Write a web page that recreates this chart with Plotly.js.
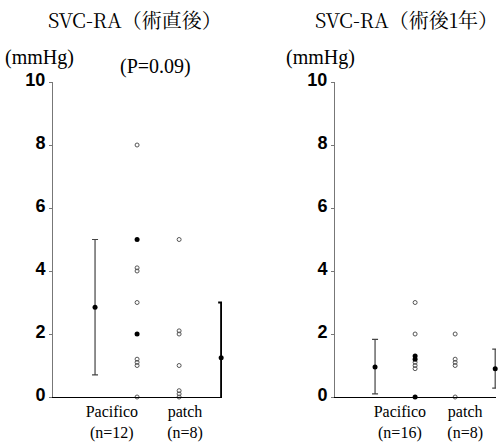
<!DOCTYPE html>
<html>
<head>
<meta charset="utf-8">
<script src="https://cdn.plot.ly/plotly-3.0.1.min.js"></script>
<style>html,body{margin:0;padding:0;background:#fff;}#chart{width:503px;height:442px;}</style>
</head>
<body>
<div id="chart"></div>
<script>
// ---- data ----
const groupLabels = ["Pacifico<br>(n=12)", "patch<br>(n=8)"];
const groupLabels1y = ["Pacifico<br>(n=16)", "patch<br>(n=8)"];
const labelPos = [1.40, 3.14];
const labelPos1y = [1.62, 3.25];
const yTicks = [0, 2, 4, 6, 8, 10];

// Panel 1: 術直後
const p1PacificoOpen = [8, 4.1, 4.0, 3.0, 1.2, 1.1, 1.0, 0];
const p1PacificoFilled = [5, 2];
const p1PatchOpen = [5, 2.1, 2.0, 1.0, 0.2, 0.1, 0];
const p1PacMean = 2.85, p1PacUp = 2.15, p1PacDown = 2.15;
const p1PatMean = 1.25, p1PatUp = 1.75, p1PatDown = 1.45;

// Panel 2: 術後1年
const p2PacificoOpen = [3.0, 2.0, 1.1, 1.0, 0.9];
const p2PacificoFilled = [1.3, 1.2, 0];
const p2PatchOpen = [2.0, 1.2, 1.1, 1.0, 0];
const p2PacMean = 0.95, p2PacUp = 0.88, p2PacDown = 0.85;
const p2PatMean = 0.9, p2PatUp = 0.62, p2PatDown = 0.62;

const pos = {meanA: 1, pac: 2, pat: 3, meanB: 4};

function openPts(x, ys, xa, ya) {
  return {x: ys.map(() => x), y: ys, xaxis: xa, yaxis: ya, type: 'scatter', mode: 'markers',
    marker: {symbol: 'circle-open', size: 4, color: '#555', line: {width: 1, color: '#555'}},
    cliponaxis: false, hoverinfo: 'none', showlegend: false};
}
function filledPts(x, ys, xa, ya) {
  return {x: ys.map(() => x), y: ys, xaxis: xa, yaxis: ya, type: 'scatter', mode: 'markers',
    marker: {symbol: 'circle', size: 5, color: '#000'},
    cliponaxis: false, hoverinfo: 'none', showlegend: false};
}
function meanBar(x, m, up, down, xa, ya, w, col) {
  return {x: [x], y: [m], xaxis: xa, yaxis: ya, type: 'scatter', mode: 'markers',
    marker: {symbol: 'circle', size: 5, color: '#000'},
    error_y: {type: 'data', symmetric: false, array: [up], arrayminus: [down], color: col, thickness: w, width: 3},
    cliponaxis: false, hoverinfo: 'none', showlegend: false};
}

const data = [
  meanBar(pos.meanA, p1PacMean, p1PacUp, p1PacDown, 'x', 'y', 1.2, '#444'),
  openPts(pos.pac, p1PacificoOpen, 'x', 'y'),
  filledPts(pos.pac, p1PacificoFilled, 'x', 'y'),
  openPts(pos.pat, p1PatchOpen, 'x', 'y'),
  meanBar(pos.meanB, p1PatMean, p1PatUp, p1PatDown, 'x', 'y', 2, '#000'),

  meanBar(pos.meanA, p2PacMean, p2PacUp, p2PacDown, 'x2', 'y2', 1.2, '#444'),
  openPts(pos.pac, p2PacificoOpen, 'x2', 'y2'),
  filledPts(pos.pac, p2PacificoFilled, 'x2', 'y2'),
  openPts(pos.pat, p2PatchOpen, 'x2', 'y2'),
  meanBar(pos.meanB, p2PatMean, p2PatUp, p2PatDown, 'x2', 'y2', 1.2, '#444')
];

const serif = "Liberation Serif, serif";
const cjkSerif = "Noto Serif CJK JP, Liberation Serif, Noto Sans CJK JP, serif";
const yDom = [(442 - 397) / 442, (442 - 82) / 442];
const yax = {
  range: [0, 10], domain: yDom, tickvals: yTicks, ticktext: yTicks.map(String),
  showgrid: false, zeroline: false, showline: true, linecolor: '#777', linewidth: 1,
  ticks: 'outside', ticklen: 3, tickcolor: '#777', ticklabelshift: -2,
  tickfont: {family: "Liberation Sans, Arial, sans-serif", size: 18, color: '#000', weight: 'bold'}
};
const xax = {
  range: [0, 4.02], showgrid: false, zeroline: false, showline: true, linecolor: '#000', linewidth: 1,
  ticks: '', tickangle: 0, automargin: false,
  tickfont: {family: serif, size: 16, color: '#000'}
};

const layout = {
  width: 503, height: 442,
  margin: {l: 0, r: 0, t: 0, b: 0},
  paper_bgcolor: '#fff', plot_bgcolor: '#fff',
  showlegend: false,
  font: {family: serif},
  xaxis: Object.assign({}, xax, {domain: [53 / 503, 222 / 503], anchor: 'y', tickvals: labelPos, ticktext: groupLabels}),
  yaxis: Object.assign({}, yax, {anchor: 'x'}),
  xaxis2: Object.assign({}, xax, {domain: [335 / 503, 496 / 503], anchor: 'y2', tickvals: labelPos1y, ticktext: groupLabels1y}),
  yaxis2: Object.assign({}, yax, {anchor: 'x2'}),
  annotations: [
    {text: 'SVC-RA（術直後）', xref: 'paper', yref: 'paper', x: 135 / 503, y: 1 - 20 / 442, xanchor: 'center', yanchor: 'middle', showarrow: false, font: {family: cjkSerif, size: 20, color: '#000'}},
    {text: 'SVC-RA（術後1年）', xref: 'paper', yref: 'paper', x: 406 / 503, y: 1 - 20 / 442, xanchor: 'center', yanchor: 'middle', showarrow: false, font: {family: cjkSerif, size: 20, color: '#000'}},
    {text: '(mmHg)', xref: 'paper', yref: 'paper', x: 3 / 503, y: 1 - 58 / 442, xanchor: 'left', yanchor: 'middle', showarrow: false, font: {family: serif, size: 20, color: '#000'}},
    {text: '(mmHg)', xref: 'paper', yref: 'paper', x: 284 / 503, y: 1 - 58 / 442, xanchor: 'left', yanchor: 'middle', showarrow: false, font: {family: serif, size: 20, color: '#000'}},
    {text: '(P=0.09)', xref: 'paper', yref: 'paper', x: 155 / 503, y: 1 - 66 / 442, xanchor: 'center', yanchor: 'middle', showarrow: false, font: {family: serif, size: 20, color: '#000'}}
  ]
};

Plotly.newPlot('chart', data, layout, {staticPlot: true, displayModeBar: false});
</script>
</body>
</html>
